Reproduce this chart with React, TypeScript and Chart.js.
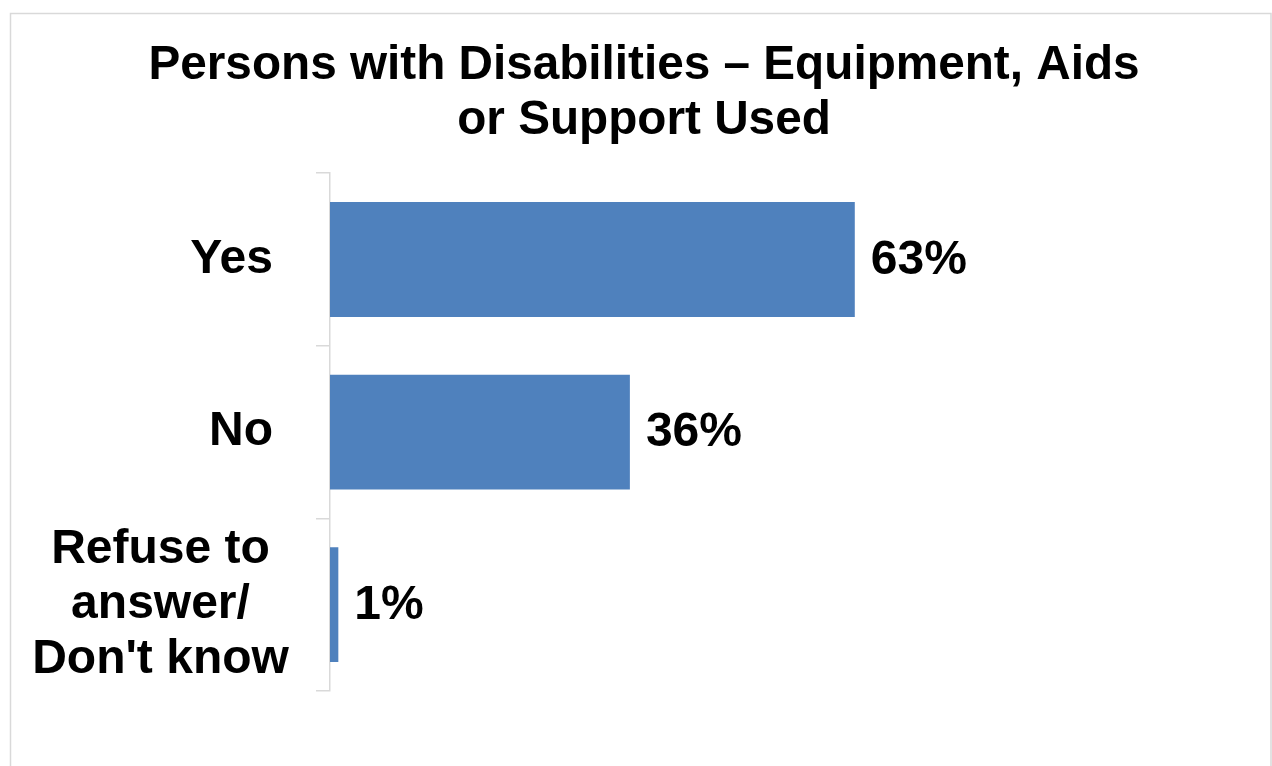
import React, { useEffect, useRef } from "react";
import { Chart, registerables } from "chart.js";

Chart.register(...registerables);

const titleLines = ["Persons with Disabilities – Equipment, Aids", "or Support Used"];
const categories: (string | string[])[] = ["Yes", "No", ["Refuse to", "answer/", "Don't know"]];
const values = [63, 36, 1];
const valueSuffix = "%";

const FONT = "'Liberation Sans', Arial, sans-serif";

export default function App() {
  const ref = useRef<HTMLCanvasElement | null>(null);

  useEffect(() => {
    if (!ref.current) return;
    const borderPlugin = {
      id: "outerBorder",
      beforeDraw(chart: any) {
        const ctx = chart.ctx;
        ctx.save();
        ctx.fillStyle = "#ffffff";
        ctx.fillRect(0, 0, chart.width, chart.height);
        ctx.strokeStyle = "#d9d9d9";
        ctx.lineWidth = 1.5;
        ctx.strokeRect(10.5, 13.5, 1260.5, 800);
        ctx.restore();
      },
    };
    const labelPlugin = {
      id: "valueLabels",
      afterDatasetsDraw(chart: any) {
        const ctx = chart.ctx;
        const meta = chart.getDatasetMeta(0);
        const yScale = chart.scales.y;
        ctx.save();
        ctx.font = `bold 48px ${FONT}`;
        ctx.fillStyle = "#000000";
        ctx.textBaseline = "middle";
        ctx.textAlign = "left";
        meta.data.forEach((bar: any, i: number) => {
          ctx.fillText(values[i] + valueSuffix, bar.x + 16, bar.y + 1);
        });
        // category labels
        const lineH = 55;
        categories.forEach((cat, i) => {
          const y = yScale.getPixelForValue(i);
          if (Array.isArray(cat)) {
            ctx.textAlign = "center";
            const x = 160.5;
            const y0 = y - ((cat.length - 1) * lineH) / 2;
            cat.forEach((line, j) => ctx.fillText(line, x, y0 + j * lineH));
          } else {
            ctx.textAlign = "right";
            ctx.fillText(cat, yScale.right - 14 - 43, y);
          }
        });
        ctx.restore();
      },
    };
    const chart = new Chart(ref.current, {
      type: "bar",
      data: {
        labels: categories,
        datasets: [
          {
            data: values,
            backgroundColor: "#4f81bd",
            borderWidth: 0,
            barPercentage: 0.665,
            categoryPercentage: 1,
          },
        ],
      },
      options: {
        indexAxis: "y",
        responsive: false,
        animation: false,
        devicePixelRatio: 1,
        layout: { padding: { left: 125, right: 109, top: 0, bottom: 75 } },
        plugins: {
          legend: { display: false },
          tooltip: { enabled: false },
          title: {
            display: true,
            text: titleLines,
            color: "#000000",
            font: { family: FONT, size: 47.7, weight: "bold", lineHeight: 1.155 },
            padding: { top: 38, bottom: 25 },
          },
        },
        scales: {
          x: {
            display: false,
            min: 0,
            max: 100,
          },
          y: {
            afterFit(scale: any) {
              scale.width = 205;
            },
            grid: {
              drawOnChartArea: false,
              drawTicks: true,
              tickLength: 14,
              color: "#d9d9d9",
              lineWidth: 1.5,
            },
            border: { display: true, color: "#d9d9d9", width: 1.5 },
            ticks: {
              display: false,
            },
          },
        },
      },
      plugins: [borderPlugin, labelPlugin],
    });
    return () => chart.destroy();
  }, []);

  return (
    <div style={{ position: "fixed", left: 0, top: 0, width: 1272, height: 766, background: "#fff" }}>
      <canvas ref={ref} width={1272} height={766} style={{ display: "block", width: 1272, height: 766 }} />
    </div>
  );
}
